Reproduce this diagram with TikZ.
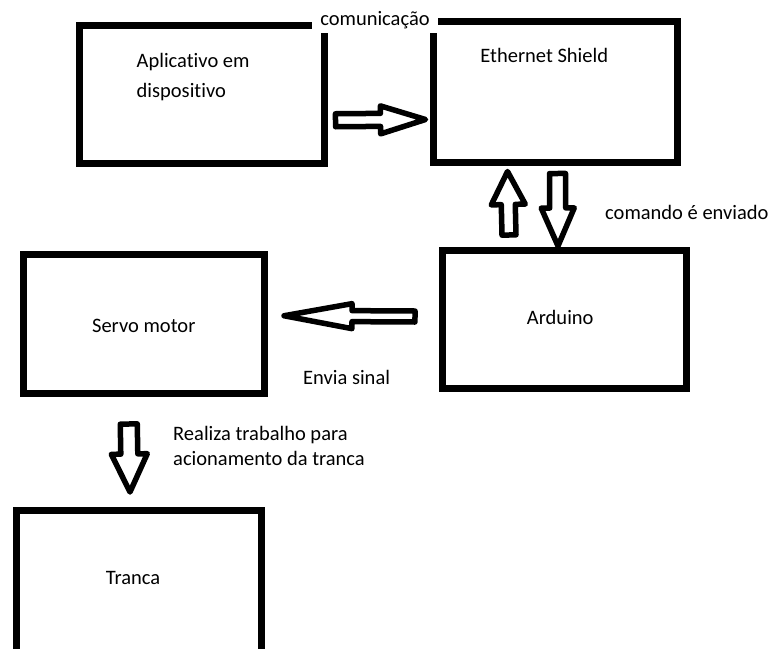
\documentclass[tikz,border=0pt]{standalone}
\usepackage{fontspec}
\setmainfont[Ligatures=NoCommon]{Carlito}
\usetikzlibrary{calc}

\tikzset{
  bsw/.store in=\bsw, bhw/.store in=\bhw, bhl/.store in=\bhl,
  bsw=6pt, bhw=14pt, bhl=45pt,
}

\begin{document}
\begin{tikzpicture}[x=1pt, y=-1pt,
    box/.style={draw, line width=7pt, inner sep=0pt},
    lbl/.style={font=\fontsize{20.5}{25}\selectfont, inner sep=0pt},
    blk/.style={draw, line width=5.5pt, line join=round, fill=white,
      to path={($(\tikztotarget)!\bhl!(\tikztostart)$) coordinate (hb)
        ($(\tikztostart)!\bsw!90:(\tikztotarget)$)
        -- ($(hb)!\bsw!90:(\tikztotarget)$)
        -- ($(hb)!\bhw!90:(\tikztotarget)$)
        -- (\tikztotarget)
        -- ($(hb)!\bhw!-90:(\tikztotarget)$)
        -- ($(hb)!\bsw!-90:(\tikztotarget)$)
        -- ($(\tikztostart)!\bsw!-90:(\tikztotarget)$) -- cycle}},
]
  \useasboundingbox (0,0) rectangle (771,648);
  \clip (0,0) rectangle (771,648);

  % boxes
  \node[box, minimum width=245pt, minimum height=137.5pt] (app) at (201.5,94.25) {};
  \node[box, minimum width=244.5pt, minimum height=141pt] (eth) at (555.25,91.5) {};
  \node[box, minimum width=243.5pt, minimum height=138pt] (ard) at (564.25,319.5) {};
  \node[box, minimum width=241.5pt, minimum height=139.5pt] (servo) at (143.75,323.75) {};
  \node[box, minimum width=245pt, minimum height=160pt] (tranca) at (139,590.5) {};

  % texts in the boxes
  \node[lbl, align=left, anchor=north west] (tapp) at ($(app.north west)+(61,31)$)
    {Aplicativo em\\[5pt]dispositivo};
  \node[lbl] (teth) at ($(eth.north)+(-11,38)$) {Ethernet Shield};
  \node[lbl] (tard) at ($(ard.center)+(-4,-2)$) {Arduino};
  \node[lbl] (tservo) at ($(servo.center)+(0,2)$) {Servo motor};
  \node[lbl] (ttranca) at ($(tranca.north)+(-6,71)$) {Tranca};

  % connector ends
  \coordinate (a1) at ($(app.east)+(8,26)$);
  \coordinate (a2) at ($(eth.west)+(-4,28)$);
  \coordinate (b1) at ($(ard.north west)+(70,-12)$);
  \coordinate (b2) at ($(eth.south west)+(78,6)$);
  \coordinate (c1) at ($(eth.south west)+(128,8)$);
  \coordinate (c2) at ($(ard.north west)+(119,-1)$);
  \coordinate (d1) at ($(ard.west)+(-24,-3)$);
  \coordinate (d2) at ($(servo.east)+(16,-8)$);
  \coordinate (e1) at ($(servo.south)+(-15,27)$);
  \coordinate (e2) at ($(tranca.north)+(-9,-15)$);

  % block arrows
  \draw[blk, bsw=6.5pt, bhw=14pt, bhl=45pt] (a1) to (a2);
  \draw[blk, bsw=7pt, bhw=17pt, bhl=33pt] (b1) to (b2);
  \draw[blk, bsw=8pt, bhw=16.5pt, bhl=38pt] (c1) to (c2);
  \draw[blk, bsw=5.5pt, bhw=12.5pt, bhl=68pt] (d1) to (d2);
  \draw[blk, bsw=8.5pt, bhw=18pt, bhl=38pt] (e1) to (e2);

  % labels on the connectors
  \node[lbl, fill=white, minimum width=126pt, minimum height=25pt] (tcom)
    at (375,20.5) {comunicação};
  \node[lbl, anchor=west] (tcmd) at (605,212) {comando é enviado};
  \node[lbl, anchor=west] (tenv) at (303,377) {Envia sinal};
  \node[lbl, align=left, anchor=west] (trea) at (173,446)
    {Realiza trabalho para\\acionamento da tranca};
\end{tikzpicture}
\end{document}
